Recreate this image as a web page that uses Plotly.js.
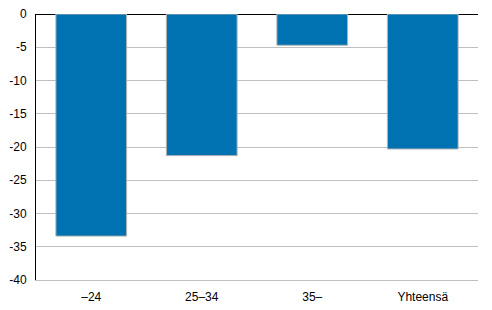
<!DOCTYPE html>
<html><head><meta charset="utf-8">
<script src="https://cdn.plot.ly/plotly-3.0.1.min.js"></script>
<style>html,body{margin:0;padding:0;background:#fff}</style>
</head><body>
<div id="chart" style="width:492px;height:310px"></div>
<script>
var categories = ["\u201324", "25\u201334", "35\u2013", "Yhteens\u00e4"];
var values = [-33.4, -21.3, -4.7, -20.3];
var yTicks = [0, -5, -10, -15, -20, -25, -30, -35, -40];

Plotly.newPlot("chart", [{
  type: "bar",
  x: categories,
  y: values,
  marker: {color: "#0072b2", line: {color: "#b4b4b4", width: 1}},
  hoverinfo: "none"
}], {
  width: 492, height: 310,
  margin: {l: 36, r: 14, t: 14, b: 30},
  paper_bgcolor: "#fff", plot_bgcolor: "#fff",
  bargap: 0.36,
  showlegend: false,
  font: {family: "Liberation Sans, Arial, sans-serif", size: 12, color: "#000"},
  xaxis: {showgrid: false, showline: true, linecolor: "#bfbfbf", linewidth: 1,
    ticks: "", ticklabelstandoff: 6, tickfont: {size: 12}},
  yaxis: {range: [-40, 0], tickvals: yTicks, ticktext: yTicks.map(String),
    showgrid: true, gridcolor: "#bfbfbf", gridwidth: 1,
    zeroline: true, zerolinecolor: "#000", zerolinewidth: 1,
    showline: true, linecolor: "#000", linewidth: 1, ticks: "", ticklabelstandoff: 6,
    tickfont: {size: 12}}
}, {staticPlot: true});
</script>
</body></html>
